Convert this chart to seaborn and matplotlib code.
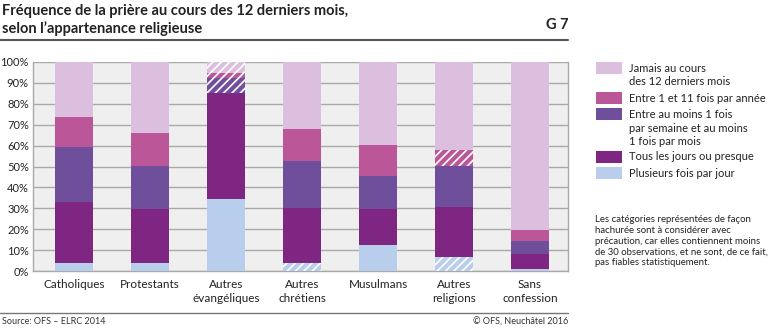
import matplotlib
matplotlib.use("Agg")
import matplotlib.pyplot as plt
from matplotlib.patches import Rectangle
from matplotlib.ticker import FuncFormatter, MultipleLocator
import numpy as np
import pandas as pd
import seaborn as sns

# --- data (percent of respondents) ---
categories = ["Catholiques", "Protestants", "Autres\névangéliques", "Autres\nchrétiens",
              "Musulmans", "Autres\nreligions", "Sans\nconfession"]
plusieurs_par_jour = [3.7, 4.0, 34.3, 4.0, 12.4, 6.9, 0.8]
tous_les_jours = [29.5, 25.7, 50.7, 26.1, 17.1, 23.9, 7.3]
hebdo_mensuel = [26.1, 20.4, 7.2, 22.7, 16.1, 19.4, 6.4]
entre_1_et_11 = [14.5, 16.1, 2.4, 15.1, 14.5, 7.8, 5.1]
jamais = [26.2, 33.8, 5.4, 32.1, 39.9, 42.0, 80.4]

series_labels = ["Plusieurs fois par jour", "Tous les jours ou presque",
                 "Entre au moins 1 fois\npar semaine et au moins\n1 fois par mois",
                 "Entre 1 et 11 fois par année",
                 "Jamais au cours\ndes 12 derniers mois"]
series_values = [plusieurs_par_jour, tous_les_jours, hebdo_mensuel, entre_1_et_11, jamais]
series_colors = ["#b9cdec", "#7e2682", "#6f4f9b", "#bb5799", "#dcbfdf"]

# segments based on fewer than 30 observations (series index, category index)
hatched = {(2, 2), (3, 2), (4, 2), (0, 3), (0, 5), (3, 5)}

sns.set_theme(style="white")
plt.rcParams["font.family"] = ["Lato", "DejaVu Sans"]
plt.rcParams["hatch.linewidth"] = 1.2

fig = plt.figure(figsize=(7.68, 3.29), dpi=100)
W, H = 768, 329
ax = fig.add_axes([33 / W, (H - 271) / H, (568 - 33) / W, (271 - 62) / H])
ax.set_facecolor("#efefef")

df = pd.DataFrame({"cat": categories})
cum = np.cumsum(np.array(series_values), axis=0)

# stacked bars: draw cumulative totals from the top layer down
for i in reversed(range(len(series_values))):
    df["top"] = cum[i]
    sns.barplot(data=df, x="cat", y="top", color=series_colors[i], saturation=1,
                width=0.5, ax=ax, zorder=3, linewidth=0)
    bars = ax.containers[-1]
    for j, bar in enumerate(bars):
        if (i, j) in hatched:
            bar.set_hatch("////")
            bar.set_edgecolor("white")
            bar.set_linewidth(0)

ax.set_xlim(-0.54, 6.5)
ax.set_ylim(0, 100)
ax.yaxis.set_major_locator(MultipleLocator(10))
ax.yaxis.set_major_formatter(FuncFormatter(lambda v, p: f"{int(v)}%"))
ax.grid(axis="y", color="#a9a9a9", linewidth=1.0, zorder=1)
ax.set_axisbelow(True)
ax.set_xlabel("")
ax.set_ylabel("")
for s in ["left", "right", "bottom"]:
    ax.spines[s].set_visible(True)
    ax.spines[s].set_color("#a9a9a9")
    ax.spines[s].set_linewidth(1.0)
ax.spines["top"].set_visible(False)
ax.tick_params(axis="both", length=0, labelsize=8.5, colors="#222222")
ax.tick_params(axis="y", pad=3, labelsize=8)
ax.tick_params(axis="x", pad=6)
for lbl in ax.get_xticklabels():
    lbl.set_linespacing(1.25)

# title and header rule
fig.text(2 / W, 1 - 4 / H, "Fréquence de la prière au cours des 12 derniers mois,\nselon l’appartenance religieuse",
         ha="left", va="top", fontsize=10.5, fontweight="bold", color="#222222", linespacing=1.3)
fig.text(568 / W, 1 - 25 / H, "G 7", ha="right", va="center", fontsize=10.5,
         fontweight="bold", color="#222222")
fig.add_artist(plt.Line2D([0, 568 / W], [1 - 40 / H, 1 - 40 / H], color="#555555", linewidth=1.5))

# footer
fig.add_artist(plt.Line2D([0, 568 / W], [1 - 313 / H, 1 - 313 / H], color="#777777", linewidth=1.0))
fig.text(2 / W, 1 - 322 / H, "Source: OFS – ELRC 2014", ha="left", va="center", fontsize=6.5, color="#333333")
fig.text(568 / W, 1 - 322 / H, "© OFS, Neuchâtel 2016", ha="right", va="center", fontsize=6.5, color="#333333")

# legend: (series index, first-line y, text block centre y)
legend_rows = [(4, 68, 75), (3, 98, 98), (2, 114, 128), (1, 157, 157), (0, 173, 173)]
for idx, y, yc in legend_rows:
    fig.add_artist(Rectangle((596 / W, 1 - (y + 6) / H), 26 / W, 12 / H,
                             transform=fig.transFigure, color=series_colors[idx], linewidth=0))
    fig.text(629 / W, 1 - yc / H, series_labels[idx], ha="left", va="center",
             fontsize=8, color="#222222", linespacing=1.32)

fig.text(595 / W, 1 - 215 / H,
         "Les catégories représentées de façon\nhachurée sont à considérer avec\nprécaution, car elles contiennent moins\nde 30 observations, et ne sont, de ce fait,\npas fiables statistiquement.",
         ha="left", va="top", fontsize=6.9, color="#222222", linespacing=1.25)

fig.savefig("out.png", dpi=100)
